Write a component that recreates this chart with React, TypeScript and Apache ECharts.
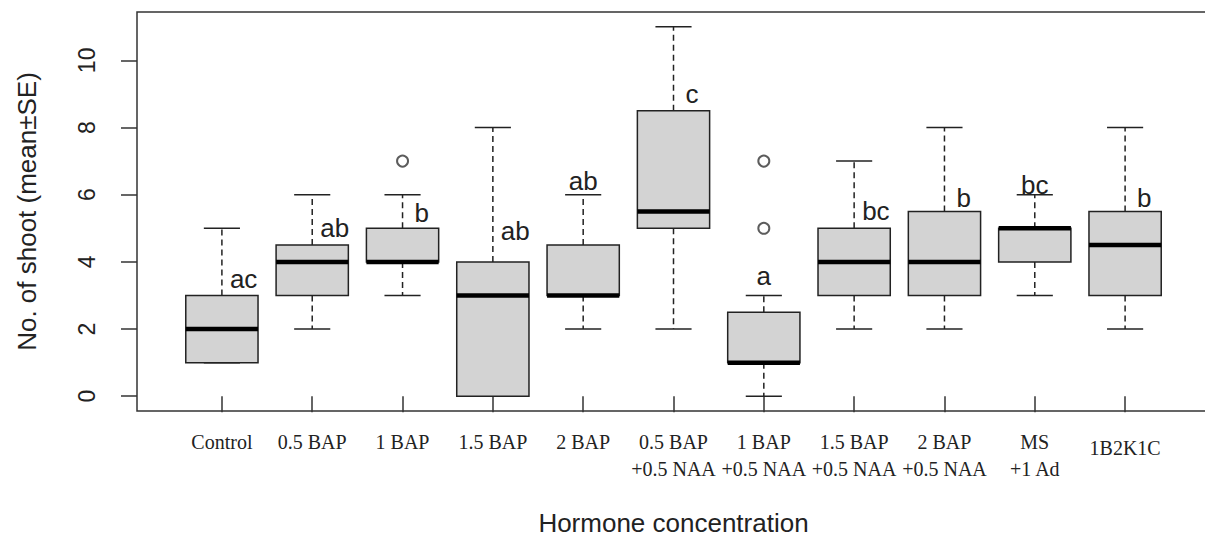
import React, { useEffect, useRef } from "react";
import * as echarts from "echarts";

// ---- data ----
const categories = [
  "Control",
  "0.5 BAP",
  "1 BAP",
  "1.5 BAP",
  "2 BAP",
  "0.5 BAP\n+0.5 NAA",
  "1 BAP\n+0.5 NAA",
  "1.5 BAP\n+0.5 NAA",
  "2 BAP\n+0.5 NAA",
  "MS\n+1 Ad",
  "1B2K1C",
];
const whiskerLow = [1, 2, 3, 0, 2, 2, 0, 2, 2, 3, 2];
const q1 = [1, 3, 4, 0, 3, 5, 1, 3, 3, 4, 3];
const median = [2, 4, 4, 3, 3, 5.5, 1, 4, 4, 5, 4.5];
const q3 = [3, 4.5, 5, 4, 4.5, 8.5, 2.5, 5, 5.5, 5, 5.5];
const whiskerHigh = [5, 6, 6, 8, 6, 11, 3, 7, 8, 6, 8];
// outliers: [group position (1-based), value]
const outliers: [number, number][] = [
  [3, 7],
  [7, 5],
  [7, 7],
];
// significance letters
const letters = ["ac", "ab", "b", "ab", "ab", "c", "a", "bc", "b", "bc", "b"];
const letterY = [3.48, 5.0, 5.46, 4.92, 6.4, 8.99, 3.57, 5.51, 5.91, 6.3, 5.91];
const letterCentered = [false, false, false, false, true, false, true, false, false, true, false];
const yTicks = [0, 2, 4, 6, 8, 10];

const SANS = "'Liberation Sans', Arial, Helvetica, sans-serif";
const SERIF = "'Liberation Serif', 'Times New Roman', serif";

export default function App() {
  const ref = useRef<HTMLDivElement>(null);

  useEffect(() => {
    if (!ref.current) return;
    const chart = echarts.init(ref.current, null, { renderer: "svg" });
    const positions = categories.map((_, i) => i + 1);
    const boxData = categories.map((_, i) => [
      i + 1,
      whiskerLow[i],
      q1[i],
      median[i],
      q3[i],
      whiskerHigh[i],
    ]);
    const letterData = letters.map((_, i) => [i + 1, letterY[i]]);

    const lineColor = "#222";

    chart.setOption({
      animation: false,
      backgroundColor: "#fff",
      grid: {
        left: 137,
        top: 12,
        width: 1073,
        height: 399,
        show: true,
        borderColor: "#333",
        borderWidth: 1.5,
        backgroundColor: "transparent",
        containLabel: false,
        outerBoundsMode: "none",
      },
      xAxis: {
        type: "value",
        min: 0.06,
        max: 11.94,
        axisLine: { show: false },
        splitLine: { show: false },
        axisTick: {
          show: true,
          length: 16,
          customValues: positions,
          lineStyle: { color: "#333", width: 1.5 },
        },
        axisLabel: {
          customValues: positions,
          formatter: (v: number) => {
            const i = Math.round(v) - 1;
            if (i === categories.length - 1) return "{low|" + categories[i] + "}";
            return categories[i] ?? "";
          },
          fontFamily: SERIF,
          fontSize: 20,
          lineHeight: 27,
          margin: 17,
          color: "#222",
          rich: {
            low: {
              fontFamily: SERIF,
              fontSize: 20,
              lineHeight: 27,
              color: "#222",
              padding: [12, 0, 0, 0],
            },
          },
        },
        name: "Hormone concentration",
        nameLocation: "middle",
        nameGap: 99,
        nameTextStyle: { fontFamily: SANS, fontSize: 26, color: "#222" },
      },
      yAxis: {
        type: "value",
        min: -0.44,
        max: 11.44,
        axisLine: { show: false },
        splitLine: { show: false },
        axisTick: {
          show: true,
          length: 16,
          customValues: yTicks,
          lineStyle: { color: "#333", width: 1.5 },
        },
        axisLabel: {
          customValues: yTicks,
          rotate: 90,
          fontFamily: SANS,
          fontSize: 23,
          margin: 39,
          color: "#222",
        },
        name: "No. of shoot (mean±SE)",
        nameLocation: "middle",
        nameGap: 97,
        nameTextStyle: { fontFamily: SANS, fontSize: 26, color: "#222" },
      },
      series: [
        {
          type: "custom",
          name: "boxes",
          data: boxData,
          encode: { x: 0, y: [1, 2, 3, 4, 5] },
          renderItem: (params: any, api: any) => {
            const x = api.value(0);
            const band = api.size([1, 0])[0];
            const half = band * 0.4;
            const cap = band * 0.2;
            const cx = api.coord([x, 0])[0];
            const yLow = api.coord([x, api.value(1)])[1];
            const yQ1 = api.coord([x, api.value(2)])[1];
            const yMed = api.coord([x, api.value(3)])[1];
            const yQ3 = api.coord([x, api.value(4)])[1];
            const yHigh = api.coord([x, api.value(5)])[1];
            const dash = { stroke: lineColor, lineWidth: 1.5, lineDash: [6, 4] };
            const solid = { stroke: lineColor, lineWidth: 1.5 };
            return {
              type: "group",
              children: [
                { type: "line", shape: { x1: cx, y1: yQ3, x2: cx, y2: yHigh }, style: dash },
                { type: "line", shape: { x1: cx, y1: yQ1, x2: cx, y2: yLow }, style: dash },
                { type: "line", shape: { x1: cx - cap, y1: yHigh, x2: cx + cap, y2: yHigh }, style: solid },
                { type: "line", shape: { x1: cx - cap, y1: yLow, x2: cx + cap, y2: yLow }, style: solid },
                {
                  type: "rect",
                  shape: { x: cx - half, y: yQ3, width: half * 2, height: yQ1 - yQ3 },
                  style: { fill: "#d3d3d3", stroke: lineColor, lineWidth: 1.5 },
                },
                {
                  type: "line",
                  shape: { x1: cx - half, y1: yMed, x2: cx + half, y2: yMed },
                  style: { stroke: "#000", lineWidth: 4.5 },
                },
              ],
            };
          },
          z: 2,
        },
        {
          type: "scatter",
          name: "outliers",
          data: outliers,
          symbol: "emptyCircle",
          symbolSize: 11,
          itemStyle: { color: "#333", borderWidth: 1.5, borderColor: "#333" },
          z: 3,
        },
        {
          type: "custom",
          name: "letters",
          data: letterData,
          encode: { x: 0, y: 1 },
          renderItem: (params: any, api: any) => {
            const i = params.dataIndex;
            const pt = api.coord([api.value(0), api.value(1)]);
            const centered = letterCentered[i];
            const txt = letters[i];
            const off = centered ? 0 : txt.length === 1 ? 12 : 8;
            return {
              type: "text",
              x: pt[0] + off,
              y: pt[1],
              style: {
                text: txt,
                fontFamily: SANS,
                fontSize: 26,
                fill: "#222",
                align: centered ? "center" : "left",
                verticalAlign: "middle",
              },
            };
          },
          z: 4,
        },
      ],
    });
    return () => chart.dispose();
  }, []);

  return (
    <div
      ref={ref}
      style={{ position: "absolute", left: 0, top: 0, width: 1205, height: 539 }}
    />
  );
}
